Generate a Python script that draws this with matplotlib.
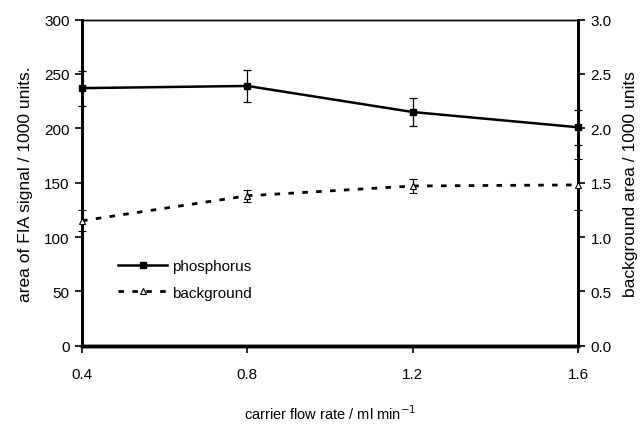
import matplotlib
matplotlib.use('Agg')
import matplotlib.pyplot as plt
from matplotlib.lines import Line2D

plt.rcParams['font.family'] = ['Liberation Sans', 'DejaVu Sans']
plt.rcParams['font.size'] = 10

# values
flow = [0.4, 0.8, 1.2, 1.6]
phosphorus = [237, 239, 215, 201]
phosphorus_err = [16, 15, 13, 16]
background = [1.15, 1.38, 1.47, 1.48]
background_err = [0.095, 0.055, 0.065, 0.235]

fig = plt.figure(figsize=(6.41, 4.39), dpi=100)
ax = fig.add_axes([0.128, 0.210, 0.774, 0.743])
ax2 = ax.twinx()

ax.errorbar(flow, phosphorus, yerr=phosphorus_err, color='black', lw=1.8,
            marker='s', ms=5, mfc='black', ecolor='black', elinewidth=0.9,
            capsize=3, capthick=0.9, clip_on=False, zorder=3)
ax2.errorbar(flow, background, yerr=background_err, color='black', lw=2,
             ls=(0, (2, 3)), marker='^', ms=5, mfc='white', mec='black',
             mew=0.8, ecolor='black', elinewidth=0.9, capsize=3,
             capthick=0.9, clip_on=False, zorder=3)

ax.set_xlim(0.4, 1.6)
ax.set_ylim(0, 300)
ax2.set_ylim(0, 3.0)
ax.set_xticks(flow)
ax.set_xticklabels(['0.4', '0.8', '1.2', '1.6'])
ax.set_yticks(range(0, 301, 50))
ax2.set_yticks([0, 0.5, 1.0, 1.5, 2.0, 2.5, 3.0])
ax2.set_yticklabels(['0.0', '0.5', '1.0', '1.5', '2.0', '2.5', '3.0'])

for a in (ax, ax2):
    a.tick_params(direction='out', length=5, width=1.2, pad=4, labelsize=11)
    a.spines['top'].set_linewidth(1.0)
    a.spines['left'].set_linewidth(2)
    a.spines['right'].set_linewidth(2)
    a.spines['bottom'].set_linewidth(2.5)
ax.tick_params(axis='x', pad=10)

ax.set_xlabel('carrier flow rate / ml min$^{-1}$', labelpad=16, fontsize=10.5)
ax.set_ylabel('area of FIA signal / 1000 units.', labelpad=8, fontsize=12.5)
ax2.set_ylabel('background area / 1000 units', rotation=90, labelpad=8,
               fontsize=12.5)

handles = [
    Line2D([], [], color='black', lw=1.8, marker='s', ms=5, mfc='black'),
    Line2D([], [], color='black', lw=2, ls=(0, (2, 3)), marker='^', ms=5,
           mfc='white', mec='black', mew=0.8),
]
ax.legend(handles, ['phosphorus', 'background'], loc='upper left',
          bbox_to_anchor=(0.073, 0.265), frameon=False, borderpad=0,
          borderaxespad=0, handlelength=3.2, handletextpad=0.35,
          labelspacing=0.8, fontsize=11)

fig.savefig('out.png', dpi=100)
